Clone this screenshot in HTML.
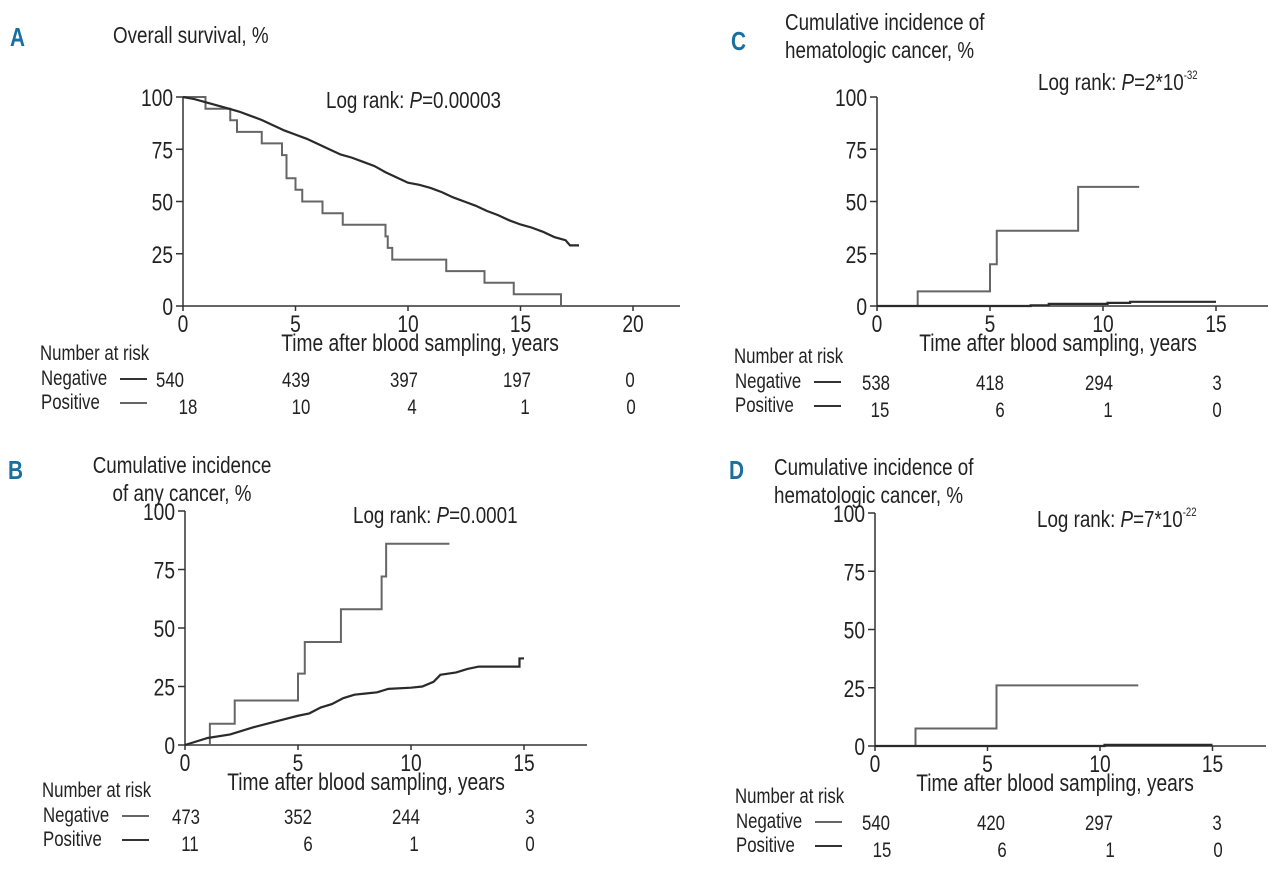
<!DOCTYPE html>
<html><head><meta charset="utf-8"><style>
html,body{margin:0;padding:0;background:#fff;}
svg{display:block;font-family:"Liberation Sans Narrow","Liberation Sans",sans-serif;}
text{fill:#222;}
.lt{fill:#1a6fa0;font-weight:bold;}
</style></head><body>
<svg id="fig" width="1280" height="869" viewBox="0 0 1280 869"></svg>
<script>
// ---- data ----
const yTicks = [0, 25, 50, 75, 100];
const xTicksA = [0, 5, 10, 15, 20];
const xTicksBCD = [0, 5, 10, 15];
// Panel A overall survival
const aNegT = [0,0.5,1,1.5,2,2.5,3,3.5,4,4.5,5,5.5,6,6.5,7,7.5,8,8.5,9,9.5,10,10.5,11,11.5,12,12.5,13,13.5,14,14.5,15,15.5,16,16.5,17,17.2,17.6];
const aNegV = [100,99,97.5,96,94.5,93,91,89,86.5,84,82,80,77.5,75,72.5,71,69,67,64,61.5,59,58,56.5,54.5,52,50,48,45.5,43.5,41,39,37.5,35.5,33,31.5,29,29];
const aPosT = [0,1.0,2.1,2.4,3.5,4.4,4.6,5.0,5.3,6.2,7.1,9.0,9.1,9.3,11.7,13.4,14.7,16.8];
const aPosV = [100,94.4,88.9,83.3,77.8,72.2,61.1,55.6,50,44.4,38.9,33.3,27.8,22.2,16.7,11.1,5.6,0];
// Panel B any cancer
const bPosT = [0,1.1,2.2,5.0,5.3,6.9,8.7,8.9,11.7];
const bPosV = [0,9.1,19,30.5,44,58,72,86,86];
const bNegT = [0,1,2,3,4,5,5.5,6,6.5,7,7.5,8,8.5,9,10,10.5,11,11.3,12,12.5,13,14.8,14.8,15];
const bNegV = [0,3,4.5,7.5,10,12.5,13.5,16,17.5,20,21.5,22,22.5,24,24.5,25,27,30,31,32.5,33.5,33.5,37,37];
// Panel C hematologic
const cPosT = [0,1.8,5.0,5.3,8.9,11.6];
const cPosV = [0,7,20,36,57,57];
const cNegT = [0,5,6.8,7.6,10.2,11.2,15];
const cNegV = [0,0,0.3,1,1.5,2,2];
// Panel D hematologic
const dPosT = [0,1.8,5.4,11.7];
const dPosV = [0,7.5,26,26];
const dNegT = [0,10.2,15];
const dNegV = [0,0.5,0.5];
// risk tables
const riskA = {neg:[540,439,397,197,0], pos:[18,10,4,1,0]};
const riskB = {neg:[473,352,244,3], pos:[11,6,1,0]};
const riskC = {neg:[538,418,294,3], pos:[15,6,1,0]};
const riskD = {neg:[540,420,297,3], pos:[15,6,1,0]};

const NS = "http://www.w3.org/2000/svg";
const svg = document.getElementById('fig');
const SX = 0.8;
function el(tag, attrs, parent, txt){
  const e = document.createElementNS(NS, tag);
  for (const k in attrs) e.setAttribute(k, attrs[k]);
  if (txt !== undefined) e.textContent = txt;
  (parent || svg).appendChild(e);
  return e;
}
function txt(parent, x, y, s, size, anchor, cls){
  const a = {x:0, y:0, 'font-size':size, 'text-anchor':anchor || 'start',
    transform:'translate(' + x + ',' + y + ') scale(' + SX + ',1)'};
  if (cls) a['class'] = cls;
  return el('text', a, parent, s);
}
function stepPath(T, V, sx, sy){
  let d = 'M' + sx(T[0]) + ' ' + sy(V[0]);
  for (let i = 1; i < T.length; i++) d += ' H' + sx(T[i]) + ' V' + sy(V[i]);
  return d;
}
function linePath(T, V, sx, sy){
  let d = 'M' + sx(T[0]) + ' ' + sy(V[0]);
  for (let i = 1; i < T.length; i++) d += ' L' + sx(T[i]) + ' ' + sy(V[i]);
  return d;
}
function panel(cfg){
  const g = el('g', {});
  
  
  const sx = t => cfg.x0 + t * cfg.pxYr;
  const sy = v => cfg.y0 - v * (cfg.y0 - cfg.y100) / 100;
  const ax = el('path', {d:'M' + cfg.x0 + ' ' + cfg.y100 + ' V' + cfg.y0 + ' H' + cfg.xEnd, stroke:'#333', 'stroke-width':1.5, fill:'none'}, g);
  
  
  yTicks.forEach(v => {
    el('line', {x1:cfg.x0 - 7, x2:cfg.x0, y1:sy(v), y2:sy(v), stroke:'#333', 'stroke-width':1.5}, g);
    const t = txt(g, cfg.x0 - 10, sy(v) + 9, String(v), 24, 'end');
    
    
  });
  cfg.xTicks.forEach(v => {
    el('line', {x1:sx(v), x2:sx(v), y1:cfg.y0, y2:cfg.y0 + 5, stroke:'#333', 'stroke-width':1.5}, g);
    const t = txt(g, sx(v), cfg.y0 + 26, String(v), 24, 'middle');
    
    
  });
  const xt = txt(g, cfg.xtX, cfg.y0 + 45, 'Time after blood sampling, years', 24, 'middle');
  
  
  const p1 = el('path', {d:stepPath(cfg.posT, cfg.posV, sx, sy), stroke:'#666', 'stroke-width':2, fill:'none'}, g);
  
  
  const p2 = el('path', {d:(cfg.smooth ? linePath : stepPath)(cfg.negT, cfg.negV, sx, sy), stroke:'#2a2a2a', 'stroke-width':2.2, fill:'none'}, g);
  
  
  const L = txt(g, cfg.letter[0], cfg.letter[1], cfg.id, 26, 'start', 'lt');
  
  
  cfg.title.forEach((line, i) => {
    const t = txt(g, cfg.titleX, cfg.titleY + i * 28, line, 23.5, cfg.titleAnchor);
    
    
  });
  const lr = el('text', {x:0, y:0, 'font-size':23.5, transform:'translate(' + cfg.lr[0] + ',' + cfg.lr[1] + ') scale(' + SX + ',1)'}, g);
  
  
  el('tspan', {}, lr, 'Log rank: ');
  el('tspan', {'font-style':'italic'}, lr, 'P');
  el('tspan', {}, lr, '=' + cfg.pBase);
  if (cfg.pExp) el('tspan', {'font-size':12, dy:-11}, lr, cfg.pExp);
  const rt = txt(g, cfg.risk.x, cfg.risk.y, 'Number at risk', 21);
  
  
  [['Negative', cfg.risk.neg, cfg.legCol[0], 0], ['Positive', cfg.risk.pos, cfg.legCol[1], 1]].forEach(([lab, vals, col, r]) => {
    const yy = cfg.risk.y + 25 + r * 24;
    const lt = txt(g, cfg.risk.x + 1, yy, lab, 21);
    
    
    el('line', {x1:cfg.risk.x + 80, x2:cfg.risk.x + 107, y1:yy - 6, y2:yy - 6, stroke:col, 'stroke-width':2}, g);
    vals.forEach((v, i) => {
      const t = txt(g, cfg.riskX[r][i], yy + (r ? 5 : 2), String(v), 21, 'middle');
      
      
    });
  });
}
panel({id:'A', x0:183, pxYr:22.5, y0:306, y100:97, xEnd:680, xTicks:xTicksA, xtX:420, smooth:true,
  posT:aPosT, posV:aPosV, negT:aNegT, negV:aNegV, letter:[10,46], legCol:['#333','#666'],
  title:['Overall survival, %'], titleX:113, titleY:43, titleAnchor:'start',
  lr:[326,108], pBase:'0.00003', pExp:'',
  risk:{x:40, y:360, neg:riskA.neg, pos:riskA.pos},
  riskX:[[170,296,404,517,630],[188,301,412,525,631]]});
panel({id:'B', x0:185, pxYr:22.6, y0:745, y100:511, xEnd:587, xTicks:xTicksBCD, xtX:366, smooth:true,
  posT:bPosT, posV:bPosV, negT:bNegT, negV:bNegV, letter:[8,479], legCol:['#666','#333'],
  title:['Cumulative incidence','of any cancer, %'], titleX:182, titleY:473, titleAnchor:'middle',
  lr:[353,523], pBase:'0.0001', pExp:'',
  risk:{x:42, y:797, neg:riskB.neg, pos:riskB.pos},
  riskX:[[186,298,406,530],[190,308,414,530]]});
panel({id:'C', x0:877, pxYr:22.6, y0:306, y100:97, xEnd:1268, xTicks:xTicksBCD, xtX:1058,
  posT:cPosT, posV:cPosV, negT:cNegT, negV:cNegV, letter:[731,50], legCol:['#333','#333'],
  title:['Cumulative incidence of','hematologic cancer, %'], titleX:785, titleY:30, titleAnchor:'start',
  lr:[1038,90], pBase:'2*10', pExp:'-32',
  risk:{x:734, y:363, neg:riskC.neg, pos:riskC.pos},
  riskX:[[876,990,1099,1217],[880,1000,1108,1217]]});
panel({id:'D', x0:875, pxYr:22.5, y0:746, y100:513, xEnd:1266, xTicks:xTicksBCD, xtX:1055,
  posT:dPosT, posV:dPosV, negT:dNegT, negV:dNegV, letter:[729,479], legCol:['#666','#333'],
  title:['Cumulative incidence of','hematologic cancer, %'], titleX:774, titleY:475, titleAnchor:'start',
  lr:[1037,527], pBase:'7*10', pExp:'-22',
  risk:{x:735, y:803, neg:riskD.neg, pos:riskD.pos},
  riskX:[[876,991,1099,1217],[882,1002,1110,1218]]});
</script>
</body></html>
